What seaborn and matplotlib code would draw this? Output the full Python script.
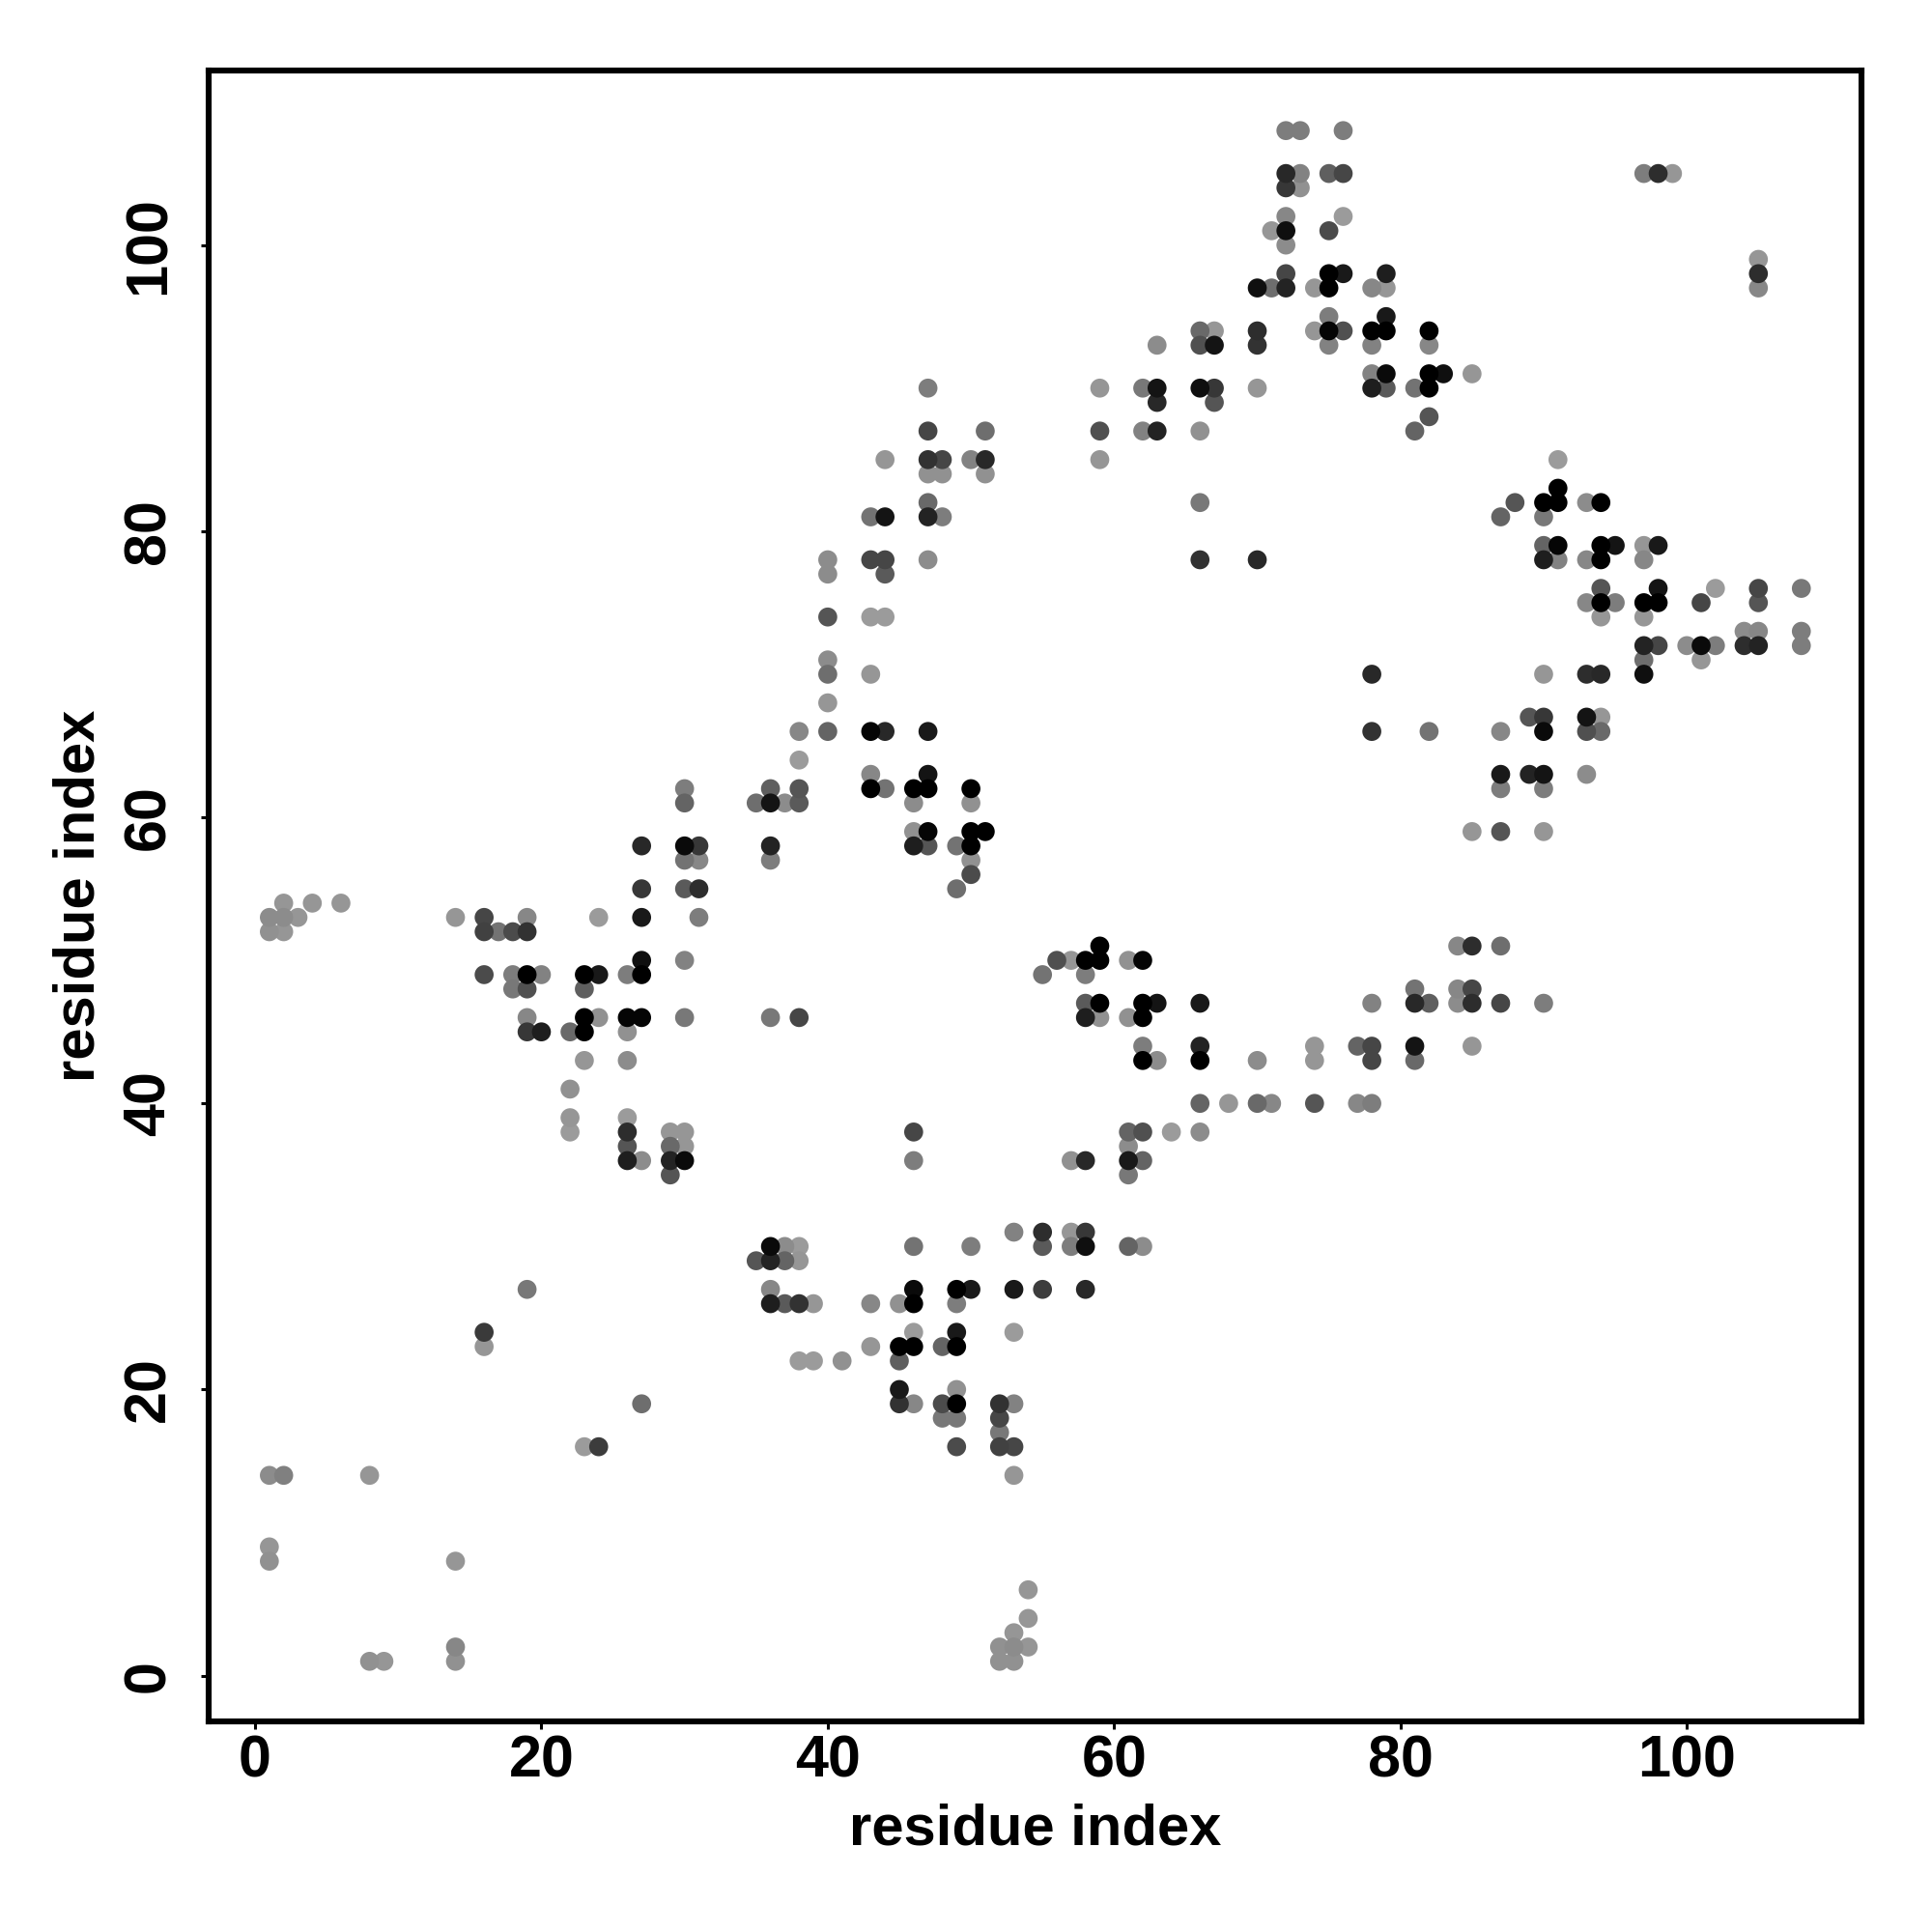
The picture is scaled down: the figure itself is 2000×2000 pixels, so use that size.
import pandas as pd
import matplotlib
matplotlib.use('Agg')
import matplotlib.pyplot as plt
import seaborn as sns

# one entry per row of the contact map, top to bottom
row_y = [108, 105, 104, 102, 101, 100, 99, 98, 97, 95, 94, 93, 91, 90, 89, 88, 87, 85, 84, 83,
         82, 81, 79, 78, 77, 76, 75, 74, 73, 72, 71, 70, 68, 67, 66, 64, 63, 62, 61, 59,
         58, 57, 56, 55, 54, 53, 52, 51, 50, 49, 48, 47, 46, 45, 44, 43, 41, 40, 39, 38,
         37, 36, 35, 31, 30, 29, 27, 26, 24, 23, 22, 20, 19, 18, 17, 16, 14, 9, 8, 6,
         4, 3, 2, 1]

row_x = [
    [72, 73, 76], [72, 73, 75, 76, 97, 98, 99], [72, 73], [72, 76], [71, 72, 75], [72], [105],
    [72, 75, 76, 79, 105], [70, 71, 72, 74, 75, 78, 79, 105], [75, 79],
    [66, 67, 70, 74, 75, 76, 78, 79, 82], [63, 66, 67, 70, 75, 78, 82], [78, 79, 82, 83, 85],
    [47, 59, 62, 63, 66, 67, 70, 78, 79, 81, 82], [63, 67], [82], [47, 51, 59, 62, 63, 66, 81],
    [44, 47, 48, 50, 51, 59, 91], [47, 48, 51], [91],
    [47, 66, 88, 90, 91, 93, 94], [43, 44, 47, 48, 87, 90], [90, 91, 94, 95, 97, 98],
    [40, 43, 44, 47, 66, 70, 90, 91, 93, 94, 97], [40, 44], [94, 98, 102, 105, 108],
    [93, 94, 95, 97, 98, 101, 105], [40, 43, 44, 94, 97], [104, 105, 108],
    [97, 98, 100, 101, 102, 104, 105, 108], [40, 97, 101], [40, 43, 78, 90, 93, 94, 97], [40],
    [89, 90, 93, 94], [38, 40, 43, 44, 47, 78, 82, 87, 90, 93, 94], [38], [43, 47, 87, 89, 90, 93],
    [30, 36, 38, 43, 44, 46, 47, 50, 87, 90], [30, 35, 36, 37, 38, 46, 50], [46, 47, 50, 51, 85, 87, 90],
    [27, 30, 31, 36, 46, 47, 49, 50], [30, 31, 36, 50], [50], [27, 30, 31, 49], [2, 4, 6],
    [1, 2, 3, 14, 16, 19, 24, 27, 31], [1, 2, 16, 17, 18, 19], [59, 84, 85, 87],
    [27, 30, 56, 57, 58, 59, 61, 62], [16, 18, 19, 20, 23, 24, 26, 27, 55, 58],
    [18, 19, 23, 81, 84, 85], [58, 59, 62, 63, 66, 78, 81, 82, 84, 85, 87, 90],
    [19, 23, 24, 26, 27, 30, 36, 38, 58, 59, 61, 62], [19, 20, 22, 23, 26],
    [62, 66, 74, 77, 78, 81, 85], [23, 26, 62, 63, 66, 70, 74, 78, 81], [22],
    [66, 68, 70, 71, 74, 77, 78], [22, 26], [22, 26, 29, 30, 46, 61, 62, 64, 66],
    [26, 29, 30, 61], [26, 27, 29, 30, 46, 57, 58, 61, 62], [29, 61], [53, 55, 57, 58],
    [36, 37, 38, 46, 50, 55, 57, 58, 61, 62], [35, 36, 37, 38], [19, 36, 46, 49, 50, 53, 55, 58],
    [36, 37, 38, 39, 43, 45, 46, 49], [16, 46, 49, 53], [16, 43, 45, 46, 48, 49], [38, 39, 41, 45],
    [45, 49], [27, 45, 46, 48, 49, 52, 53], [48, 49, 52], [52], [23, 24, 49, 52, 53], [1, 2, 8, 53],
    [1], [1, 14], [54], [54], [53], [14, 52, 53, 54], [8, 9, 14, 52, 53],
]

# grey level of each point, 0 is black
row_shade = [
    [125, 125, 125], [40, 130, 95, 70, 125, 45, 150], [55, 145], [135, 155], [150, 15, 75], [140], [150],
    [70, 0, 25, 30, 45], [15, 110, 35, 150, 0, 135, 150, 135], [125, 25],
    [105, 150, 45, 150, 5, 80, 0, 0, 0], [140, 80, 20, 50, 130, 130, 135], [130, 10, 0, 15, 150],
    [125, 150, 120, 20, 15, 55, 150, 30, 90, 115, 0], [40, 85], [85], [70, 110, 80, 130, 35, 145, 100],
    [150, 50, 70, 130, 40, 150, 155], [145, 145, 145], [0],
    [105, 120, 85, 0, 0, 140, 0], [115, 20, 35, 125, 100, 120], [100, 5, 0, 20, 150, 25],
    [140, 70, 70, 140, 50, 40, 30, 130, 135, 0, 135], [140, 90], [85, 20, 155, 70, 120],
    [135, 0, 125, 0, 0, 70, 85], [85, 155, 155, 150, 150], [140, 135, 125],
    [35, 70, 140, 10, 125, 45, 35, 125], [140, 110, 150], [110, 150, 40, 150, 45, 40, 15], [150],
    [85, 55, 20, 150], [135, 100, 5, 40, 25, 50, 115, 135, 10, 80, 105], [155], [135, 20, 25, 35, 20, 140],
    [125, 95, 85, 0, 115, 0, 0, 0, 125, 125], [100, 110, 20, 140, 90, 140, 145], [145, 5, 0, 0, 150, 85, 150],
    [40, 10, 55, 35, 30, 85, 115, 0], [115, 135, 125, 145], [75], [55, 90, 45, 110], [150, 150, 150],
    [140, 140, 150, 150, 70, 135, 155, 25, 125], [145, 150, 65, 115, 75, 50], [0, 135, 45, 110],
    [15, 130, 80, 150, 0, 0, 145, 5], [75, 125, 0, 130, 0, 25, 125, 0, 115, 125],
    [120, 80, 95, 115, 135, 70], [90, 0, 0, 20, 25, 130, 40, 95, 140, 45, 70, 125],
    [135, 0, 145, 5, 5, 120, 120, 70, 30, 145, 145, 0], [55, 30, 105, 0, 145],
    [125, 35, 150, 100, 70, 20, 150], [150, 140, 0, 140, 0, 140, 150, 70, 105], [145],
    [100, 150, 105, 135, 85, 135, 125], [150, 155], [155, 45, 150, 150, 70, 100, 80, 155, 140],
    [85, 105, 150, 140], [30, 140, 35, 10, 125, 145, 40, 25, 100], [85, 120], [130, 45, 150, 55],
    [10, 140, 155, 115, 125, 90, 125, 15, 100, 140], [85, 35, 100, 150], [120, 135, 10, 0, 25, 25, 60, 40],
    [30, 90, 50, 150, 135, 145, 0, 125], [58, 155, 25, 155], [150, 150, 0, 0, 100, 0], [155, 155, 145, 95],
    [25, 145], [110, 50, 135, 75, 0, 50, 130], [120, 120, 70], [120], [155, 60, 75, 65, 70], [140, 128, 150, 150],
    [150], [145, 150], [150], [150], [150], [135, 145, 140, 150], [145, 150, 145, 145, 145],
]

tick_values = [0, 20, 40, 60, 80, 100]
axis_label = 'residue index'

records = []
for y, xs, shades in zip(row_y, row_x, row_shade):
    for x, shade in zip(xs, shades):
        records.append({'x': x, 'y': y, 'shade': shade})
df = pd.DataFrame(records).sort_values('shade', ascending=False, kind='stable')

sns.set_theme(style='white')
plt.rcParams['font.family'] = ['Liberation Sans', 'DejaVu Sans']
plt.rcParams['font.weight'] = 'bold'

fig = plt.figure(figsize=(10, 10), dpi=200)
ax = fig.add_axes([216 / 2000, 1 - 1782 / 2000, (1927 - 216) / 2000, (1782 - 73) / 2000])

sns.scatterplot(data=df, x='x', y='y', hue='shade', palette='gray', hue_norm=(0, 255),
                s=50, linewidth=0, legend=False, ax=ax)

ax.set_xlim(-3.24, 112.2)
ax.set_ylim(-3.2, 112.2)
ax.set_xticks(tick_values)
ax.set_yticks(tick_values)
ax.tick_params(axis='both', length=3, width=1.1, color='black', labelcolor='black', labelsize=22,
               bottom=True, left=True)
ax.tick_params(axis='x', pad=2)
ax.tick_params(axis='y', pad=8.7)
for label in ax.get_yticklabels():
    label.set_rotation(90)
    label.set_va('center')
for label in ax.get_xticklabels() + ax.get_yticklabels():
    label.set_fontweight('bold')

for spine in ax.spines.values():
    spine.set_linewidth(2.2)
    spine.set_color('black')

ax.set_xlabel(axis_label, fontsize=21.5, fontweight='bold', color='black')
ax.set_ylabel(axis_label, fontsize=21.5, fontweight='bold', color='black')
ax.xaxis.set_label_coords(0.5, -0.0493)
ax.yaxis.set_label_coords(-0.062, 0.5)

fig.savefig('out.png', dpi=200, facecolor='white')
